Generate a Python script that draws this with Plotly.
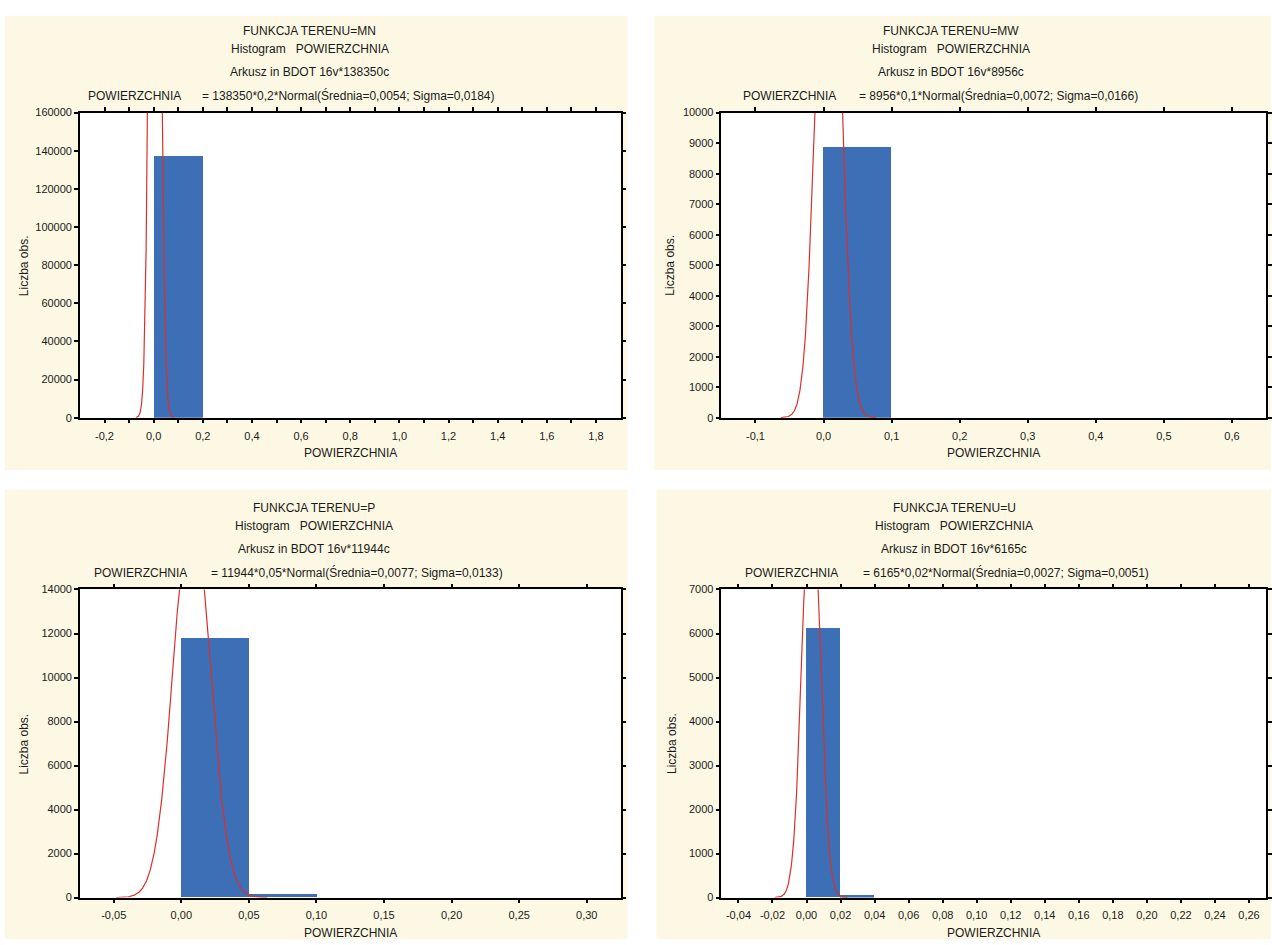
import numpy as np
import plotly.graph_objects as go

W, H = 1272, 945

# ---------------- data ----------------
panel_names = ["MN", "MW", "P", "U"]

# histogram bins (left edges) and counts
mn_bin_left = [0.0]
mn_counts = [137600]
mw_bin_left = [0.0]
mw_counts = [8890]
p_bin_left = [0.0, 0.05]
p_counts = [11770, 150]
u_bin_left = [0.0, 0.02]
u_counts = [6108, 40]

bin_widths = [0.2, 0.1, 0.05, 0.02]
n_obs = [138350, 8956, 11944, 6165]
means = [0.0054, 0.0072, 0.0077, 0.0027]
sigmas = [0.0184, 0.0166, 0.0133, 0.0051]

x_ranges = [[-0.3, 1.9], [-0.15, 0.65], [-0.075, 0.325], [-0.05, 0.27]]
y_ranges = [[0, 160000], [0, 10000], [0, 14000], [0, 7000]]
y_dticks = [20000, 1000, 2000, 1000]

mn_tickvals = [-0.2, -0.1, 0.0, 0.1, 0.2, 0.3, 0.4, 0.5, 0.6, 0.7, 0.8, 0.9, 1.0,
               1.1, 1.2, 1.3, 1.4, 1.5, 1.6, 1.7, 1.8]
mn_ticktext = ["-0,2", "", "0,0", "", "0,2", "", "0,4", "", "0,6", "", "0,8", "", "1,0",
               "", "1,2", "", "1,4", "", "1,6", "", "1,8"]
mw_tickvals = [-0.1, 0.0, 0.1, 0.2, 0.3, 0.4, 0.5, 0.6]
mw_ticktext = ["-0,1", "0,0", "0,1", "0,2", "0,3", "0,4", "0,5", "0,6"]
p_tickvals = [-0.05, 0.0, 0.05, 0.10, 0.15, 0.20, 0.25, 0.30]
p_ticktext = ["-0,05", "0,00", "0,05", "0,10", "0,15", "0,20", "0,25", "0,30"]
u_tickvals = [-0.04, -0.02, 0.0, 0.02, 0.04, 0.06, 0.08, 0.10, 0.12, 0.14, 0.16,
              0.18, 0.20, 0.22, 0.24, 0.26]
u_ticktext = ["-0,04", "-0,02", "0,00", "0,02", "0,04", "0,06", "0,08", "0,10", "0,12",
              "0,14", "0,16", "0,18", "0,20", "0,22", "0,24", "0,26"]

title_lines1 = ["FUNKCJA TERENU=MN", "FUNKCJA TERENU=MW", "FUNKCJA TERENU=P", "FUNKCJA TERENU=U"]
title_lines2 = ["Histogram   POWIERZCHNIA"] * 4
title_lines3 = ["Arkusz in BDOT 16v*138350c", "Arkusz in BDOT 16v*8956c",
                "Arkusz in BDOT 16v*11944c", "Arkusz in BDOT 16v*6165c"]
eq_texts = ["= 138350*0,2*Normal(Średnia=0,0054; Sigma=0,0184)",
            "= 8956*0,1*Normal(Średnia=0,0072; Sigma=0,0166)",
            "= 11944*0,05*Normal(Średnia=0,0077; Sigma=0,0133)",
            "= 6165*0,02*Normal(Średnia=0,0027; Sigma=0,0051)"]
var_name = "POWIERZCHNIA"
y_title = "Liczba obs."

bins_left = [mn_bin_left, mw_bin_left, p_bin_left, u_bin_left]
counts = [mn_counts, mw_counts, p_counts, u_counts]
tickvals = [mn_tickvals, mw_tickvals, p_tickvals, u_tickvals]
ticktexts = [mn_ticktext, mw_ticktext, p_ticktext, u_ticktext]

# ---------------- layout geometry (pixels) ----------------
plot_boxes = [  # x0, x1, y0(top), y1(bottom)
    (80, 621, 108, 417),
    (722, 1267, 108, 417),
    (80, 621, 591, 903),
    (722, 1267, 591, 903),
]
cream_boxes = [
    (5, 628, 10, 470),
    (655, 1272, 10, 470),
    (5, 628, 490, 945),
    (657, 1272, 490, 945),
]
title_cx = [310, 952, 314, 955]
var_x = [86, 742, 92, 744]
eq_x = [200, 858, 209, 862]
ytitle_x = [24, 671, 24, 672]

def px(x):
    return x / W

def py(y):
    return 1 - y / H

FONT = "Liberation Sans, Arial, sans-serif"
TXT = "#1a1a1a"
BAR = "#3d6fb6"
RED = "#dc2f2a"
CREAM = "#fdf8e3"

fig = go.Figure()
shapes = []
annotations = []

for i in range(4):
    ax = "" if i == 0 else str(i + 1)
    xa, ya = "x" + ax, "y" + ax
    bw = bin_widths[i]
    centers = [b + bw / 2 for b in bins_left[i]]
    fig.add_trace(go.Bar(
        x=centers, y=counts[i], width=[bw] * len(centers),
        marker=dict(color=BAR, line=dict(width=0)),
        xaxis=xa, yaxis=ya, showlegend=False,
    ))
    lo = max(x_ranges[i][0], means[i] - 4.2 * sigmas[i])
    hi = min(x_ranges[i][1], means[i] + 4.2 * sigmas[i])
    xs = np.linspace(lo, hi, 1500)
    ys = n_obs[i] * bw * np.exp(-0.5 * ((xs - means[i]) / sigmas[i]) ** 2) / (sigmas[i] * np.sqrt(2 * np.pi))
    fig.add_trace(go.Scatter(
        x=xs, y=ys, mode="lines", line=dict(color=RED, width=1.2),
        xaxis=xa, yaxis=ya, showlegend=False, hoverinfo="skip",
    ))

    x0, x1, y0, y1 = plot_boxes[i]
    axis_common = dict(
        showgrid=False, zeroline=False, showline=True, linecolor="black", linewidth=1.5,
        mirror="ticks", ticks="outside", ticklen=4, tickwidth=1.5, tickcolor="black",
        tickfont=dict(family=FONT, size=11, color=TXT),
    )
    fig.layout["xaxis" + ax] = dict(
        domain=[px(x0), px(x1)], range=x_ranges[i], anchor=ya,
        tickmode="array", tickvals=tickvals[i], ticktext=ticktexts[i],
        ticklabelstandoff=3, **axis_common,
    )
    fig.layout["yaxis" + ax] = dict(
        domain=[py(y1), py(y0)], range=y_ranges[i], anchor=xa,
        dtick=y_dticks[i], tick0=0, tickformat="d", **axis_common,
    )

    cx0, cx1, cy0, cy1 = cream_boxes[i]
    shapes.append(dict(type="rect", xref="paper", yref="paper", x0=px(cx0), x1=px(cx1),
                       y0=py(cy1), y1=py(cy0), fillcolor=CREAM, line=dict(width=0), layer="below"))
    shapes.append(dict(type="rect", xref="paper", yref="paper", x0=px(x0), x1=px(x1),
                       y0=py(y1), y1=py(y0), fillcolor="white", line=dict(width=0), layer="below"))

    tf = dict(family=FONT, size=12, color=TXT)
    for txt, off in [(title_lines1[i], 83), (title_lines2[i], 64), (title_lines3[i], 41)]:
        annotations.append(dict(text=txt, x=px(title_cx[i]), y=py(y0 - off), xref="paper", yref="paper",
                                xanchor="center", yanchor="middle", showarrow=False, font=tf))
    annotations.append(dict(text=var_name, x=px(var_x[i]), y=py(y0 - 17), xref="paper", yref="paper",
                            xanchor="left", yanchor="middle", showarrow=False, font=tf))
    annotations.append(dict(text=eq_texts[i], x=px(eq_x[i]), y=py(y0 - 17), xref="paper", yref="paper",
                            xanchor="left", yanchor="middle", showarrow=False, font=tf))
    annotations.append(dict(text=var_name, x=px((x0 + x1) / 2), y=py(y1 + 36), xref="paper", yref="paper",
                            xanchor="center", yanchor="middle", showarrow=False, font=tf))
    annotations.append(dict(text=y_title, x=px(ytitle_x[i]), y=py((y0 + y1) / 2), xref="paper", yref="paper",
                            xanchor="center", yanchor="middle", textangle=-90, showarrow=False,
                            font=dict(family=FONT, size=12, color=TXT)))

fig.update_layout(
    width=W, height=H, margin=dict(l=0, r=0, t=0, b=0),
    paper_bgcolor="white", plot_bgcolor="rgba(0,0,0,0)",
    shapes=shapes, annotations=annotations, bargap=0, showlegend=False,
)

fig.write_html("out.html")
